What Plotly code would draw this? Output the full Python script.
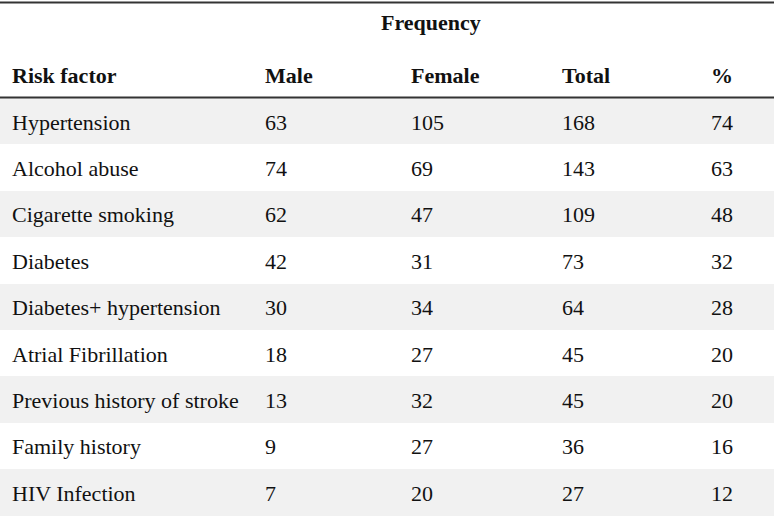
import plotly.graph_objects as go

risk_factors = ["Hypertension", "Alcohol abuse", "Cigarette smoking", "Diabetes",
                "Diabetes+ hypertension", "Atrial Fibrillation",
                "Previous history of stroke", "Family history", "HIV Infection"]
male = [63, 74, 62, 42, 30, 18, 13, 9, 7]
female = [105, 69, 47, 31, 34, 27, 32, 27, 20]
total = [168, 143, 109, 73, 64, 45, 45, 36, 27]
percent = [74, 63, 48, 32, 28, 20, 20, 16, 12]
header_labels = ["Risk factor", "Male", "Female", "Total", "%"]
group_label = "Frequency"

W, H = 774, 520
FONT = "Liberation Serif"
FS = 22
n = len(risk_factors)
row_colors = ["#f1f1f1" if i % 2 == 0 else "#ffffff" for i in range(n)]
bg_widths = [257, 146, 151, 149, 71]
text_widths = [253, 146, 151, 149, 71]
text_left = 4
header_top = 48
text_shift = 7
columns = [risk_factors, male, female, total, percent]

# background table: row shading only
fig = go.Figure(go.Table(
    domain=dict(x=[0, 1], y=[0, 1 - header_top / H]),
    columnwidth=bg_widths,
    header=dict(values=[""] * len(header_labels), fill_color="white",
                line=dict(width=0, color="white"), height=50,
                font=dict(family=FONT, size=FS)),
    cells=dict(values=[[""] * len(c) for c in columns],
               fill_color=[row_colors] * len(columns),
               line=dict(width=0, color="white"), height=46.4,
               font=dict(family=FONT, size=FS)),
    hoverinfo="skip",
))

# text table (transparent), nudged to centre text in the rows
fig.add_trace(go.Table(
    domain=dict(x=[text_left / W, 1], y=[0, 1 - (header_top + text_shift) / H]),
    columnwidth=text_widths,
    header=dict(
        values=["<b>%s</b>" % h for h in header_labels],
        align="left",
        fill_color="rgba(0,0,0,0)",
        line=dict(width=0, color="rgba(0,0,0,0)"),
        font=dict(family=FONT, size=FS, color="#111111"),
        height=50,
    ),
    cells=dict(
        values=columns,
        align="left",
        fill_color="rgba(0,0,0,0)",
        line=dict(width=0, color="rgba(0,0,0,0)"),
        font=dict(family=FONT, size=FS, color="#111111"),
        height=46.4,
    ),
))

fig.add_annotation(
    text="<b>%s</b>" % group_label, xref="paper", yref="paper",
    x=431 / W, y=1 - 23 / H, xanchor="center", yanchor="middle",
    showarrow=False, font=dict(family=FONT, size=FS, color="#111111"),
)
fig.add_shape(type="line", xref="paper", yref="paper", x0=0, x1=1,
              y0=1 - 2.5 / H, y1=1 - 2.5 / H, line=dict(color="#333333", width=2))
fig.add_shape(type="line", xref="paper", yref="paper", x0=0, x1=1,
              y0=1 - 97.5 / H, y1=1 - 97.5 / H, line=dict(color="#333333", width=2))

fig.update_layout(width=W, height=H, margin=dict(l=0, r=0, t=0, b=0),
                  paper_bgcolor="white", plot_bgcolor="white")
fig.write_html("out.html", config={"displayModeBar": False},
               post_script="document.body.style.margin='0';")
